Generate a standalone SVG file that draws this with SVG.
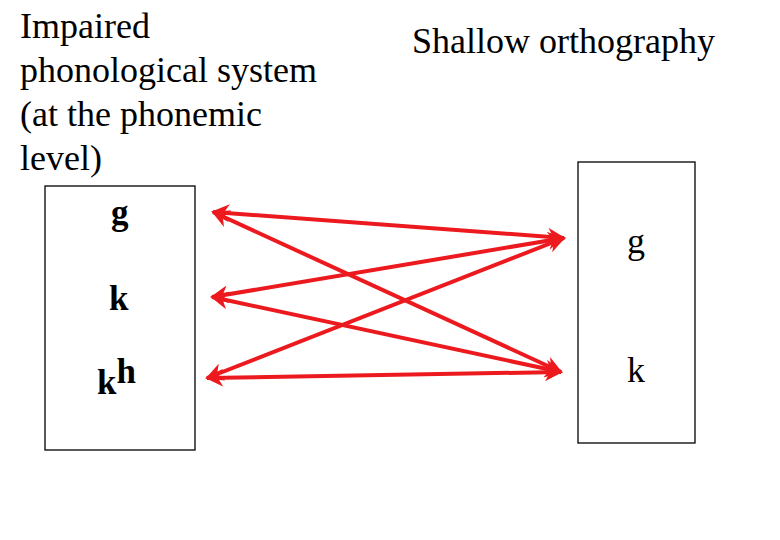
<svg xmlns="http://www.w3.org/2000/svg" width="780" height="540" viewBox="0 0 780 540">
<style>
text{font-family:"Liberation Serif","Times New Roman",serif;fill:#000}
.t{font-size:36px}
.b{font-size:35px;font-weight:bold}
.box{fill:#fff;stroke:#000;stroke-width:1.3}
.c{stroke:#ec1a1e;stroke-width:4;fill:none;marker-start:url(#a);marker-end:url(#a)}
</style>
<defs>
<marker id="a" viewBox="0 0 10 10" refX="9" refY="5" markerWidth="4.5" markerHeight="4.5" orient="auto-start-reverse" markerUnits="strokeWidth">
<path d="M0,0 L10,5 L0,10 L3,5 Z" fill="#ec1a1e"/>
</marker>
</defs>
<rect width="780" height="540" fill="#fff"/>
<g id="title-left">
<text class="t" x="20" y="38">Impaired</text>
<text class="t" x="20" y="82">phonological system</text>
<text class="t" x="20" y="126">(at the phonemic</text>
<text class="t" x="20" y="170">level)</text>
</g>
<g id="title-right">
<text class="t" x="412" y="53">Shallow orthography</text>
</g>
<g id="left-box">
<rect class="box" x="45" y="186" width="150" height="264"/>
<text class="b" x="111" y="224">g</text>
<text class="b" x="109" y="310">k</text>
<text class="b" x="97" y="394">k<tspan dy="-11">h</tspan></text>
</g>
<g id="right-box">
<rect class="box" x="578" y="162" width="117" height="281"/>
<text class="t" x="627" y="253">g</text>
<text class="t" x="627" y="382">k</text>
</g>
<g id="connectors">
<line class="c" x1="213" y1="212" x2="564" y2="238"/>
<line class="c" x1="213" y1="212" x2="561" y2="372"/>
<line class="c" x1="212" y1="297" x2="564" y2="238"/>
<line class="c" x1="212" y1="297" x2="561" y2="372"/>
<line class="c" x1="207" y1="378" x2="564" y2="238"/>
<line class="c" x1="207" y1="378" x2="561" y2="372"/>
</g>
</svg>
